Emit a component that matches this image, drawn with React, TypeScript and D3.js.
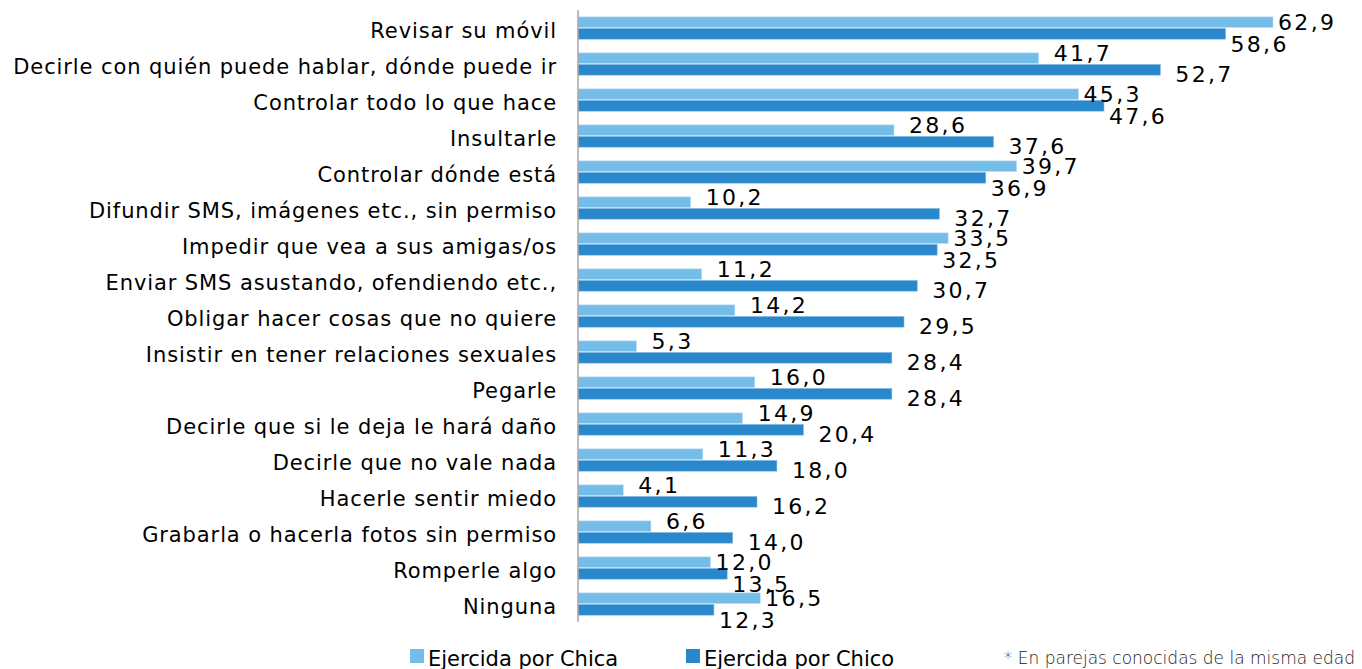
import React from 'react';
import * as d3 from 'd3';

const categories = [
  'Revisar su móvil',
  'Decirle con quién puede hablar, dónde puede ir',
  'Controlar todo lo que hace',
  'Insultarle',
  'Controlar dónde está',
  'Difundir SMS, imágenes etc., sin permiso',
  'Impedir que vea a sus amigas/os',
  'Enviar SMS asustando, ofendiendo etc.,',
  'Obligar hacer cosas que no quiere',
  'Insistir en tener relaciones sexuales',
  'Pegarle',
  'Decirle que si le deja le hará daño',
  'Decirle que no vale nada',
  'Hacerle sentir miedo',
  'Grabarla o hacerla fotos sin permiso',
  'Romperle algo',
  'Ninguna ',
];

const chica = [62.9, 41.7, 45.3, 28.6, 39.7, 10.2, 33.5, 11.2, 14.2, 5.3, 16.0, 14.9, 11.3, 4.1, 6.6, 12.0, 16.5];
const chico = [58.6, 52.7, 47.6, 37.6, 36.9, 32.7, 32.5, 30.7, 29.5, 28.4, 28.4, 20.4, 18.0, 16.2, 14.0, 13.5, 12.3];

const seriesNames = ['Ejercida por Chica', 'Ejercida por Chico'];
const colors = ['#74BDE9', '#2888CB'];
const footnote = '* En parejas conocidas de la misma edad';

const W = 1362;
const H = 669;
const FONT = '"DejaVu Sans", sans-serif';

const fmt = (v: number) => v.toFixed(1).replace('.', ',');

export default function App() {
  const x = d3.scaleLinear().domain([0, 70]).range([578, 578 + 70 * 11.05]);
  const y = d3.scaleBand<string>().domain(categories).range([10, 622]).paddingInner(0.38).paddingOuter(0.19);
  const sub = d3.scaleBand<number>().domain([0, 1]).range([0, y.bandwidth()]).paddingInner(0.08);

  return (
    <svg width={W} height={H} style={{ position: 'absolute', left: 0, top: 0, background: '#fff' }}>
      {categories.map((c, i) => {
        const y0 = y(c)!;
        const vals = [chica[i], chico[i]];
        const close = Math.abs(vals[0] - vals[1]) < 5;
        return (
          <g key={c}>
            <text x={557} y={y0 + y.bandwidth() / 2 + 3} dy="0.35em" textAnchor="end"
              fontFamily={FONT} fontSize={21} letterSpacing={0.9} fill="#000">{c}</text>
            {vals.map((v, s) => (
              <rect key={s} x={x(0)} y={y0 + sub(s)!} width={x(v) - x(0)} height={sub.bandwidth()}
                fill={colors[s]} stroke={s === 0 ? '#c4e2f5' : '#7fb9e2'} strokeWidth={0.6} />
            ))}
            {vals.map((v, s) => {
              const dy = close ? (s === 0 ? 0 : 10) : (s === 0 ? -5 : 4);
              return (
                <text key={'l' + s} x={x(v) + (close ? 5 : 15)}
                  y={y0 + sub(s)! + sub.bandwidth() / 2 + dy} dy="0.35em"
                  fontFamily={FONT} fontSize={22} letterSpacing={2.3} fill="#000">{fmt(v)}</text>
              );
            })}
          </g>
        );
      })}
      <line x1={x(0)} x2={x(0)} y1={10} y2={622} stroke="#a6a6a6" strokeWidth={1.5} />
      {seriesNames.map((n, s) => (
        <g key={n} transform={`translate(${[410, 686][s]},0)`}>
          <rect x={0} y={649} width={14} height={14} fill={colors[s]} />
          <text x={18} y={666} fontFamily={FONT} fontSize={21} fill="#000">{n}</text>
        </g>
      ))}
      <text x={1355} y={664} textAnchor="end" fontFamily={FONT} fontSize={17} fontWeight={200} fill="#222">{footnote}</text>
    </svg>
  );
}
